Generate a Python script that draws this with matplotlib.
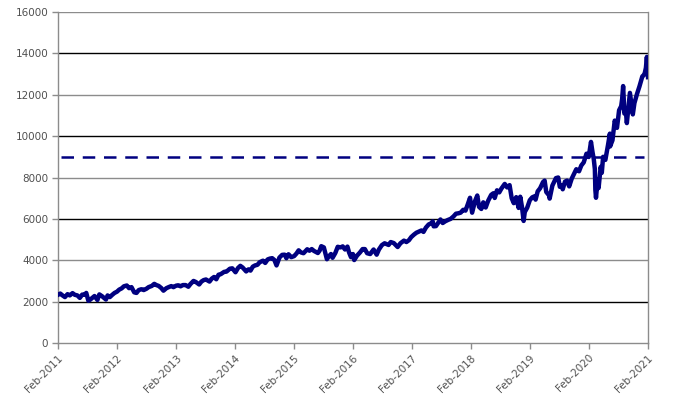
import matplotlib
matplotlib.use("Agg")
import matplotlib.pyplot as plt
import pandas as pd

dates = [
 "2011-02-01","2011-02-15","2011-03-01","2011-03-16","2011-04-01","2011-04-15","2011-05-02","2011-05-16","2011-06-01","2011-06-16","2011-07-01","2011-07-15","2011-07-26","2011-08-08","2011-08-20","2011-09-01","2011-09-15","2011-10-03","2011-10-15","2011-11-01","2011-11-25","2011-12-05","2011-12-19",
 "2012-01-03","2012-01-17","2012-02-01","2012-02-15","2012-03-01","2012-03-15","2012-04-02","2012-04-16","2012-05-01","2012-05-18","2012-06-01","2012-06-15","2012-07-02","2012-07-16","2012-08-01","2012-08-15","2012-09-04","2012-09-19","2012-10-02","2012-10-16","2012-11-01","2012-11-15","2012-12-03","2012-12-17",
 "2013-01-02","2013-01-16","2013-02-01","2013-02-15","2013-03-01","2013-03-15","2013-04-01","2013-04-18","2013-05-01","2013-05-20","2013-06-03","2013-06-24","2013-07-08","2013-07-22","2013-08-05","2013-08-27","2013-09-10","2013-09-24","2013-10-08","2013-10-22","2013-11-05","2013-11-26","2013-12-10","2013-12-31",
 "2014-01-15","2014-02-04","2014-02-20","2014-03-06","2014-03-20","2014-04-11","2014-04-25","2014-05-08","2014-05-22","2014-06-05","2014-06-20","2014-07-03","2014-07-24","2014-08-07","2014-08-22","2014-09-05","2014-09-19","2014-10-03","2014-10-16","2014-11-03","2014-11-20","2014-12-05","2014-12-16","2014-12-29",
 "2015-01-15","2015-02-02","2015-02-17","2015-03-02","2015-03-16","2015-04-01","2015-04-24","2015-05-08","2015-05-22","2015-06-05","2015-06-29","2015-07-10","2015-07-20","2015-08-05","2015-08-24","2015-09-04","2015-09-18","2015-09-28","2015-10-15","2015-10-30","2015-11-16","2015-11-30","2015-12-14","2015-12-29",
 "2016-01-08","2016-01-20","2016-02-01","2016-02-09","2016-02-26","2016-03-15","2016-04-01","2016-04-15","2016-04-29","2016-05-18","2016-06-08","2016-06-27","2016-07-11","2016-07-29","2016-08-15","2016-09-09","2016-09-22","2016-10-11","2016-11-04","2016-11-21","2016-12-13","2016-12-28",
 "2017-01-13","2017-01-27","2017-02-13","2017-02-28","2017-03-14","2017-03-31","2017-04-13","2017-04-28","2017-05-15","2017-05-31","2017-06-09","2017-06-15","2017-06-29","2017-07-14","2017-07-27","2017-08-10","2017-08-25","2017-09-12","2017-09-28","2017-10-16","2017-10-31","2017-11-15","2017-11-29","2017-12-15","2017-12-29",
 "2018-01-12","2018-01-26","2018-02-08","2018-02-26","2018-03-12","2018-03-23","2018-04-06","2018-04-18","2018-05-03","2018-05-18","2018-06-06","2018-06-20","2018-06-28","2018-07-12","2018-07-26","2018-08-08","2018-08-29","2018-09-13","2018-09-28","2018-10-11","2018-10-24","2018-11-08","2018-11-23","2018-12-03","2018-12-14","2018-12-24","2018-12-31",
 "2019-01-15","2019-01-31","2019-02-15","2019-03-01","2019-03-08","2019-03-21","2019-04-05","2019-04-23","2019-05-03","2019-05-13","2019-05-31","2019-06-03","2019-06-20","2019-07-12","2019-07-26","2019-08-05","2019-08-16","2019-08-23","2019-09-06","2019-09-19","2019-10-02","2019-10-18","2019-11-01","2019-11-15","2019-12-02","2019-12-16","2019-12-31",
 "2020-01-17","2020-01-31","2020-02-14","2020-02-24","2020-03-02","2020-03-09","2020-03-12","2020-03-16","2020-03-26","2020-04-01","2020-04-14","2020-04-21","2020-04-29","2020-05-13","2020-05-29","2020-06-10","2020-06-11","2020-06-26","2020-07-10","2020-07-24","2020-08-06","2020-08-19","2020-08-25","2020-08-31","2020-09-08","2020-09-16","2020-09-23","2020-10-12","2020-10-30","2020-11-09","2020-11-25","2020-12-10","2020-12-28",
 "2021-01-06","2021-01-12","2021-01-19","2021-01-25","2021-02-01",
]
values = [
 2330,2390,2300,2220,2360,2300,2410,2330,2300,2180,2340,2330,2420,2040,2100,2180,2270,2080,2350,2260,2100,2300,2220,
 2330,2420,2480,2580,2640,2740,2780,2650,2700,2450,2420,2560,2600,2560,2620,2700,2760,2860,2800,2760,2660,2530,2650,2700,
 2750,2700,2770,2790,2740,2800,2800,2720,2850,3000,2950,2830,2970,3040,3070,2970,3110,3190,3080,3300,3330,3440,3450,3590,
 3610,3420,3630,3730,3650,3460,3560,3500,3690,3750,3780,3900,3980,3870,4040,4080,4100,4010,3750,4130,4260,4270,4100,4290,
 4150,4200,4330,4480,4380,4340,4530,4460,4540,4450,4350,4470,4680,4620,4050,4180,4300,4120,4350,4650,4620,4670,4520,4660,
 4380,4150,4300,4010,4220,4370,4540,4540,4340,4300,4520,4270,4520,4730,4820,4740,4880,4830,4640,4820,4950,4880,
 4970,5120,5240,5330,5380,5440,5370,5580,5730,5790,5880,5640,5650,5820,5970,5800,5880,5950,6000,6120,6250,6270,6300,6440,6400,
 6700,7020,6300,6860,7130,6580,6480,6800,6550,6870,7160,7240,7010,7380,7280,7460,7690,7520,7630,7000,6760,7050,6530,7070,6560,5900,6330,
 6540,6900,7040,7090,6930,7330,7480,7780,7850,7300,7130,6980,7610,7970,8000,7550,7630,7430,7800,7850,7570,7950,8170,8400,8300,8580,8730,
 9150,8990,9720,9200,8900,8400,7400,7020,7900,7490,8510,8230,9000,8850,9550,10120,9500,9800,10750,10400,11250,11450,11800,12420,11090,11300,10630,12090,11050,11600,12040,12400,12890,
 12950,13050,13300,13830,12850,
]
y_ticks = [0, 2000, 4000, 6000, 8000, 10000, 12000, 14000, 16000]
tick_years = list(range(2011, 2022))
reference_level = 9000

s = pd.Series(values, index=pd.to_datetime(dates))

fig = plt.figure(figsize=(6.78, 3.97), dpi=100)
ax = fig.add_axes([58/678, 1-343/397, 590/678, 331/397])

for idx, v in enumerate(y_ticks):
    if idx == 0:
        continue
    col = "black" if idx % 2 == 1 else "#8c8c8c"
    ax.axhline(v, color=col, lw=1.0, zorder=1)

ax.plot(s.index, s.values, color="#000080", lw=3.2, zorder=3, solid_joinstyle="round")
ax.plot([pd.Timestamp("2011-02-20"), pd.Timestamp("2021-01-10")], [reference_level]*2,
        color="#000080", lw=1.8, ls=(0, (5, 3.5)), zorder=2)

xt = [pd.Timestamp(f"{y}-02-01") for y in tick_years]
ax.set_xlim(xt[0], xt[-1])
ax.set_ylim(0, 16000)
ax.set_yticks(y_ticks)
ax.set_yticklabels([str(v) for v in y_ticks])
ax.set_xticks(xt)
ax.set_xticklabels([f"Feb-{y}" for y in tick_years], rotation=45, ha="right", rotation_mode="anchor")

for sp in ["left", "bottom", "right"]:
    ax.spines[sp].set_color("#8c8c8c")
    ax.spines[sp].set_linewidth(1.0)
ax.spines["top"].set_visible(False)
ax.tick_params(axis="both", colors="#8c8c8c", length=4, width=1, labelsize=7.5, labelcolor="#505050")
ax.tick_params(axis="y", pad=3)
ax.tick_params(axis="x", pad=3)

fig.savefig("out.png", dpi=100)
